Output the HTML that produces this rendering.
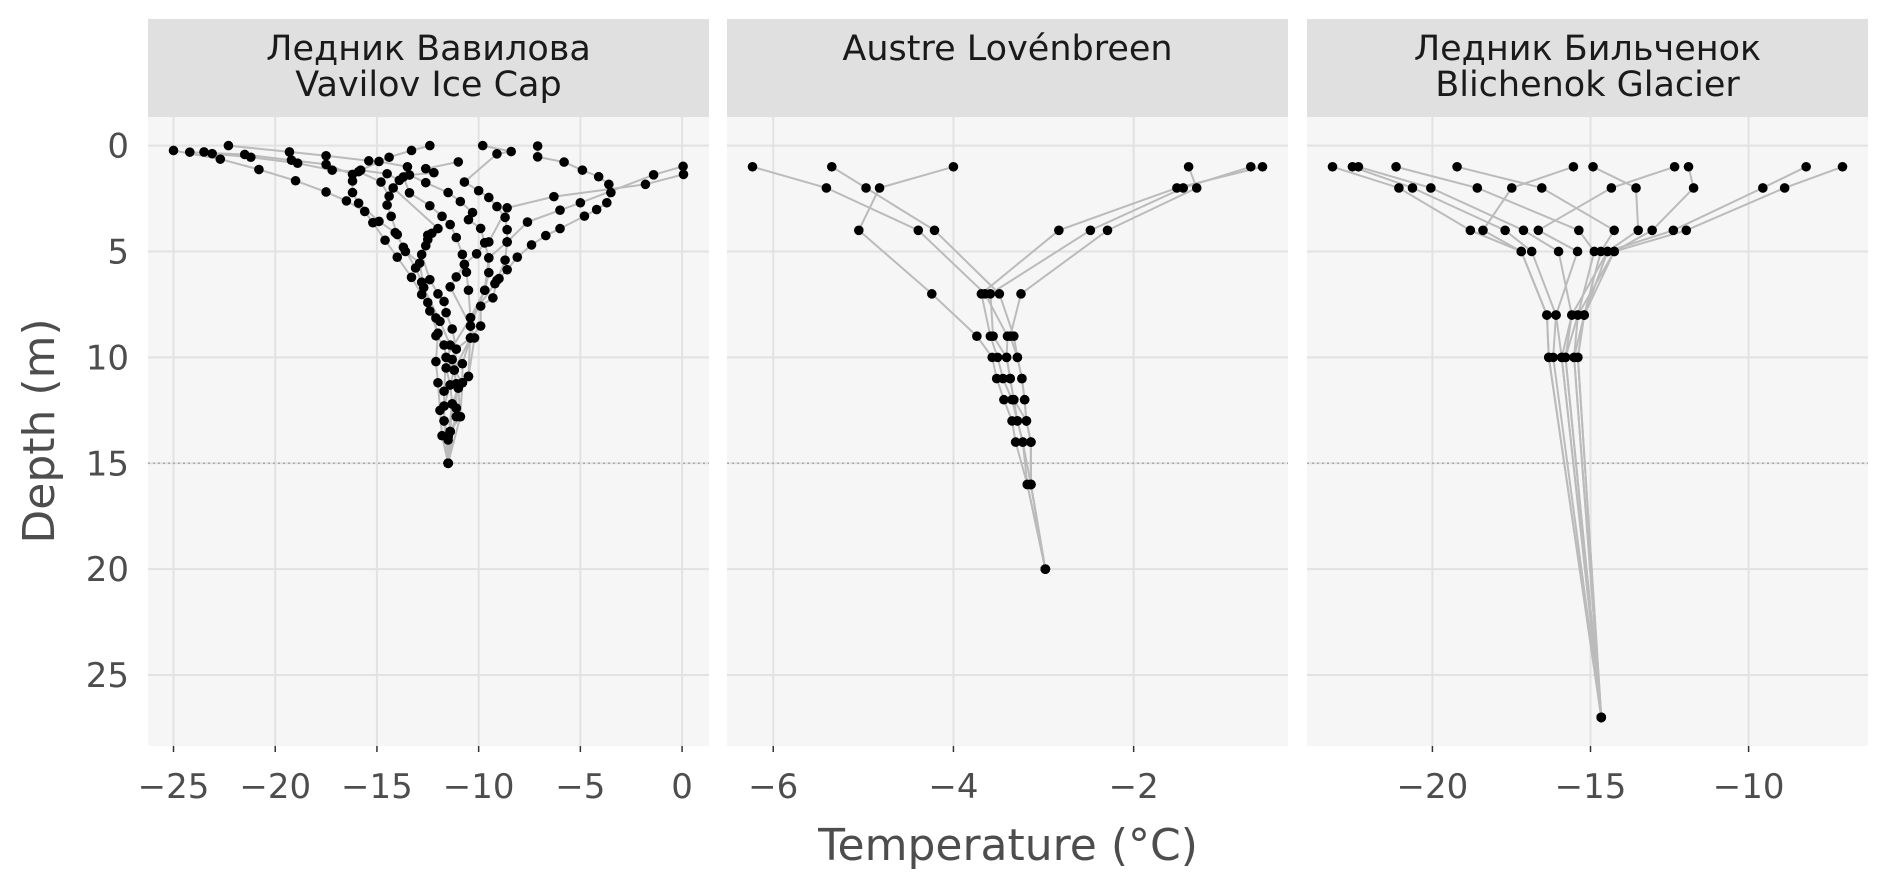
<!DOCTYPE html>
<html><head><meta charset="utf-8">
<style>
html,body{margin:0;padding:0;background:#fff;}
svg{display:block;font-family:"DejaVu Sans","Liberation Sans","Noto Sans CJK SC",sans-serif;}
</style></head>
<body>
<svg id="chart" width="1888" height="886" viewBox="0 0 1888 886" xmlns="http://www.w3.org/2000/svg">
<text x="0" y="0" transform="translate(54,431) rotate(-90)" text-anchor="middle" font-size="44" fill="#4d4d4d">Depth (m)</text>
<text x="1008" y="860" text-anchor="middle" font-size="44" fill="#4d4d4d">Temperature (°C)</text>
</svg>
<script>
const depthTicks = [0, 5, 10, 15, 20, 25];
const referenceDepth = 15;
const panelTitles = [["Ледник Вавилова", "Vavilov Ice Cap"], ["Austre Lovénbreen"], ["Ледник Бильченок", "Blichenok Glacier"]];
const xTicks1 = [-25, -20, -15, -10, -5, 0];
const xTicks2 = [-6, -4, -2];
const xTicks3 = [-20, -15, -10];

const vavilovProfiles = [
 [[-25.0,0.23],[-22.7,0.64],[-20.8,1.13],[-19.0,1.66],[-17.5,2.19],[-16.5,2.61],[-15.6,3.11],[-15.2,3.64],[-14.6,4.47],[-14.0,5.27],[-13.3,6.22],[-12.8,7.03],[-12.4,7.81],[-12.0,8.86],[-12.1,10.2],[-12.0,11.2],[-11.9,12.5],[-11.8,13.7],[-11.5,15.0]],
 [[-24.2,0.31],[-21.5,0.42],[-19.2,0.69],[-17.5,0.89],[-16.2,1.36],[-16.2,1.67],[-16.2,2.22],[-15.9,2.72],[-14.9,3.58],[-14.1,4.11],[-13.7,4.8],[-13.1,5.78],[-12.8,6.45],[-12.5,7.41],[-12.1,8.14],[-12.1,8.98],[-11.7,9.42],[-11.6,10.0],[-11.7,11.6],[-11.7,12.3],[-11.7,13.0],[-11.5,13.75],[-11.5,15.0]],
 [[-23.5,0.30],[-23.1,0.38],[-21.2,0.55],[-18.9,0.83],[-17.2,1.16],[-15.9,1.23],[-14.8,1.72],[-14.4,2.39],[-14.5,2.81],[-14.3,3.34],[-14.0,4.2],[-13.6,5.0],[-12.9,5.55],[-12.7,6.70],[-11.9,8.3],[-11.4,9.42],[-11.6,10.5],[-11.4,11.3],[-11.3,12.2],[-11.4,13.5],[-11.5,15.0]],
 [[-22.3,0.0],[-19.3,0.30],[-17.5,0.48],[-15.4,0.72],[-14.9,0.75],[-13.5,1.0],[-13.7,1.48],[-13.4,2.23],[-12.4,2.84],[-11.8,3.34],[-11.4,3.73],[-11.1,4.34],[-10.8,5.14],[-10.7,5.61],[-10.6,5.98],[-10.5,6.83],[-10.4,8.13],[-10.4,9.08],[-10.8,10.3],[-10.8,11.2],[-10.9,12.8],[-11.4,13.5],[-11.5,15.0]],
 [[-12.4,0.0],[-13.3,0.23],[-14.4,0.55],[-15.8,1.16],[-14.5,1.33],[-13.9,1.64],[-14.2,2.0],[-12.0,3.92],[-12.3,4.14],[-12.5,4.23],[-12.5,4.44],[-12.6,4.73],[-12.8,5.14],[-12.4,6.33],[-12.0,7.0],[-11.7,7.36],[-11.6,7.89],[-11.3,8.66],[-11.1,9.61],[-11.3,10.1],[-11.1,11.25],[-11.1,12.4],[-11.1,12.8],[-11.5,13.9],[-11.5,15.0]],
 [[-11.0,0.77],[-12.6,1.09],[-12.2,1.28],[-13.4,1.39],[-12.6,1.75],[-11.5,2.22],[-10.9,2.64],[-10.3,3.16],[-10.5,3.5],[-9.9,3.91],[-9.7,4.59],[-10.1,5.11],[-10.7,5.61],[-11.1,6.2],[-11.4,6.67],[-10.4,8.52],[-10.2,9.08],[-10.5,10.9],[-10.8,11.2],[-11.0,11.45],[-11.3,12.2],[-11.5,13.75],[-11.5,15.0]],
 [[-9.8,0.0],[-8.4,0.28],[-9.1,0.39],[-10.7,1.72],[-10.0,2.13],[-9.5,2.45],[-9.1,2.88],[-8.7,3.39],[-8.6,3.97],[-8.6,4.55],[-8.7,5.41],[-9.1,6.36],[-9.3,7.19],[-9.9,7.58],[-9.9,8.52],[-10.4,9.08],[-11.2,10.6],[-11.4,11.3],[-11.7,12.3],[-11.7,13.0],[-11.5,15.0]],
 [[-7.1,0.02],[-7.1,0.53],[-5.8,0.78],[-4.9,1.16],[-4.1,1.47],[-3.6,1.83],[-3.5,2.22],[-3.7,2.70],[-4.2,3.02],[-4.8,3.33],[-6.0,3.92],[-6.7,4.25],[-7.4,4.69],[-8.1,5.27],[-8.6,5.86],[-9.0,6.28],[-9.2,6.52],[-10.4,8.13],[-11.6,10.0],[-10.8,11.2],[-11.3,12.2],[-11.4,13.5],[-11.5,15.0]],
 [[0.05,0.98],[-1.4,1.38],[-5.0,2.70],[-6.0,3.05],[-7.6,3.61],[-8.6,4.55],[-9.5,5.30],[-9.5,6.0],[-9.7,6.83],[-10.4,8.52],[-10.5,10.9],[-11.0,11.45],[-10.9,12.8],[-11.5,15.0]],
 [[0.07,1.36],[-1.8,1.83],[-6.3,2.41],[-8.6,2.94],[-9.5,4.55],[-9.7,4.59],[-9.5,5.3],[-9.7,6.83],[-10.4,8.13],[-10.4,9.08],[-11.1,9.61],[-11.2,10.6],[-11.1,11.25],[-11.1,12.4],[-11.5,15.0]]
];

const lovenProfiles = [
 [[-6.23,1],[-5.41,2],[-4.39,4],[-3.65,7],[-3.40,9],[-3.41,10],[-3.37,11],[-3.33,12],[-3.29,13],[-3.23,14],[-3.14,16],[-2.98,20]],
 [[-5.35,1],[-4.97,2],[-4.21,4],[-3.49,7],[-3.33,9],[-3.29,10],[-3.24,11],[-3.21,12],[-3.19,13],[-3.14,14],[-3.14,16],[-2.98,20]],
 [[-4.0,1],[-4.82,2],[-5.05,4],[-4.24,7],[-3.74,9],[-3.57,10],[-3.52,11],[-3.44,12],[-3.35,13],[-3.31,14],[-3.18,16],[-2.98,20]],
 [[-0.57,1],[-1.52,2],[-2.83,4],[-3.69,7],[-3.59,9],[-3.51,10],[-3.45,11],[-3.35,12],[-3.29,13],[-3.23,14],[-3.18,16],[-2.98,20]],
 [[-0.70,1],[-1.45,2],[-2.48,4],[-3.59,7],[-3.56,9],[-3.41,10],[-3.37,11],[-3.33,12],[-3.19,13],[-3.14,14],[-3.14,16],[-2.98,20]],
 [[-1.39,1],[-1.30,2],[-2.29,4],[-3.25,7],[-3.37,9],[-3.29,10],[-3.24,11],[-3.21,12],[-3.19,13],[-3.14,14],[-3.14,16],[-2.98,20]]
];

const blichenokProfiles = [
 [[-23.16,1],[-21.06,2],[-18.80,4],[-17.19,5],[-16.38,8],[-16.32,10],[-14.66,27]],
 [[-22.53,1],[-20.63,2],[-17.70,4],[-16.86,5],[-16.09,8],[-16.18,10],[-14.66,27]],
 [[-22.34,1],[-20.05,2],[-17.12,4],[-16.01,5],[-15.59,8],[-15.91,10],[-14.66,27]],
 [[-21.15,1],[-18.58,2],[-15.37,4],[-14.88,5],[-15.40,8],[-15.79,10],[-14.66,27]],
 [[-19.22,1],[-16.54,2],[-14.25,4],[-14.67,5],[-15.20,8],[-15.52,10],[-14.66,27]],
 [[-15.54,1],[-17.49,2],[-18.40,4],[-17.19,5],[-16.38,8],[-16.32,10],[-14.66,27]],
 [[-14.92,1],[-13.56,2],[-13.49,4],[-14.46,5],[-15.20,8],[-15.40,10],[-14.66,27]],
 [[-12.34,1],[-14.34,2],[-16.65,4],[-15.41,5],[-16.09,8],[-15.91,10],[-14.66,27]],
 [[-11.90,1],[-11.74,2],[-13.05,4],[-14.25,5],[-15.40,8],[-15.52,10],[-14.66,27]],
 [[-8.18,1],[-9.55,2],[-12.38,4],[-14.46,5],[-15.59,8],[-15.79,10],[-14.66,27]],
 [[-7.03,1],[-8.86,2],[-11.97,4],[-14.25,5],[-15.20,8],[-15.40,10],[-14.66,27]]
];

const NS = "http://www.w3.org/2000/svg";
const svg = document.getElementById("chart");
function mk(tag, attrs, parent) {
  const e = document.createElementNS(NS, tag);
  for (const k in attrs) e.setAttribute(k, attrs[k]);
  (parent || svg).appendChild(e);
  return e;
}
const panels = [
  {profiles: vavilovProfiles, ticks: xTicks1, left: 148, key: "vavilov"},
  {profiles: lovenProfiles, ticks: xTicks2, left: 727, key: "loven"},
  {profiles: blichenokProfiles, ticks: xTicks3, left: 1307, key: "blichenok"}
];
const PW = 561, PT = 117, PB = 746;
let dmin = Infinity, dmax = -Infinity;
panels.forEach(p => p.profiles.forEach(pr => pr.forEach(pt => { dmin = Math.min(dmin, pt[1]); dmax = Math.max(dmax, pt[1]); })));
dmin = Math.min(dmin, 0);
const dr = dmax - dmin;
const y0 = dmin - dr * 0.05, y1 = dmax + dr * 0.05;
const yScale = d => PT + (d - y0) / (y1 - y0) * (PB - PT);

depthTicks.forEach(t => {
  const tx = mk("text", {x: 129, y: yScale(t) + 12, "text-anchor": "end", "font-size": "34", fill: "#4d4d4d"});
  
  
  tx.textContent = t;
});

panels.forEach((p, pi) => {
  let xmin = Infinity, xmax = -Infinity;
  p.profiles.forEach(pr => pr.forEach(pt => { xmin = Math.min(xmin, pt[0]); xmax = Math.max(xmax, pt[0]); }));
  const xr = xmax - xmin;
  const a = xmin - xr * 0.05, b = xmax + xr * 0.05;
  const xScale = v => p.left + (v - a) / (b - a) * PW;
  const g = mk("g", {});
  
  
  const strip = mk("rect", {x: p.left, y: 19, width: PW, height: 98, fill: "#e0e0e0"}, g);
  
  
  const lines = panelTitles[pi];
  lines.forEach((ln, li) => {
    const cy = 60 + li * 36;
    const st = mk("text", {x: p.left + PW / 2, y: cy, "text-anchor": "middle", "font-size": "35", fill: "#1a1a1a"}, g);
    
    
    st.textContent = ln;
  });
  const bg = mk("rect", {x: p.left, y: PT, width: PW, height: PB - PT, fill: "#f6f6f6"}, g);
  
  
  depthTicks.forEach(t => {
    const gl = mk("line", {x1: p.left, x2: p.left + PW, y1: yScale(t), y2: yScale(t), stroke: "#e2e2e2", "stroke-width": 2}, g);
    
    
  });
  p.ticks.forEach(t => {
    const gx = xScale(t);
    const gl = mk("line", {x1: gx, x2: gx, y1: PT, y2: PB, stroke: "#e2e2e2", "stroke-width": 2}, g);
    
    
    const tk = mk("line", {x1: gx, x2: gx, y1: PB, y2: PB + 6, stroke: "#333", "stroke-width": 1.5}, g);
    
    
    const tl = mk("text", {x: gx, y: 798, "text-anchor": "middle", "font-size": "34", fill: "#4d4d4d"}, g);
    
    
    tl.textContent = (t < 0 ? "\u2212" + Math.abs(t) : String(t));
  });
  const ref = mk("line", {x1: p.left, x2: p.left + PW, y1: yScale(referenceDepth), y2: yScale(referenceDepth), stroke: "#aaaaaa", "stroke-width": 1.5, "stroke-dasharray": "2,3"}, g);
  
  
  p.profiles.forEach((pr, k) => {
    const pl = mk("polyline", {points: pr.map(pt => xScale(pt[0]).toFixed(1) + "," + yScale(pt[1]).toFixed(1)).join(" "), fill: "none", stroke: "#bbbbbb", "stroke-width": 2}, g);
    
    
  });
  p.profiles.forEach((pr, k) => {
    pr.forEach(pt => {
      const c = mk("circle", {cx: xScale(pt[0]), cy: yScale(pt[1]), r: 4.8, fill: "#000"}, g);
      
      
    });
  });
});
</script>
</body></html>
